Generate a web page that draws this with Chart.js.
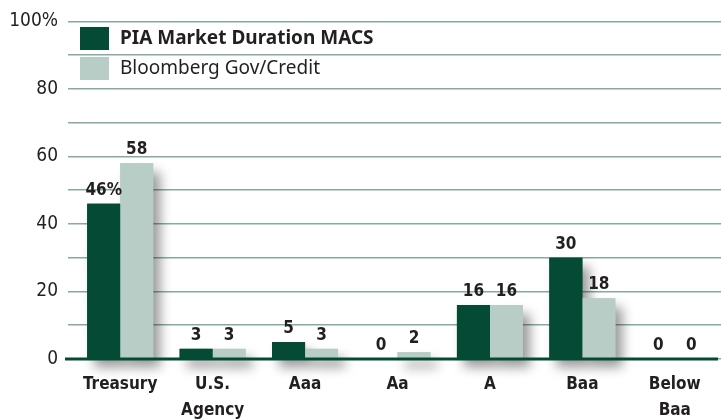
<!DOCTYPE html>
<html>
<head>
<meta charset="utf-8">
<script src="https://cdn.jsdelivr.net/npm/chart.js@4"></script>
<style>
  html, body { margin: 0; padding: 0; background: #fff; }
  #wrap { width: 722px; height: 420px; }
</style>
</head>
<body>
<div id="wrap"><canvas id="myChart" width="722" height="420"></canvas></div>
<script>
const labels = [
    'Treasury',
    ['U.S.', 'Agency'],
    'Aaa',
    'Aa',
    'A',
    'Baa',
    ['Below', 'Baa']
];

const piaValues = [46, 3, 5, 0, 16, 30, 0];
const bloombergValues = [58, 3, 3, 2, 16, 18, 0];

const yTicks = [0, 20, 40, 60, 80, 100];

const darkGreen = '#044a34';
const lightGreen = '#b8cdc6';
const gridColor = '#86ab9c';
const textColor = '#231f20';
const narrow = '"Liberation Sans Narrow", "DejaVu Sans Condensed", sans-serif';

const piaDataSet = {
    label: 'PIA Market Duration MACS',
    backgroundColor: darkGreen,
    data: piaValues,
    clip: false
};

const bloombergDataSet = {
    label: 'Bloomberg Gov/Credit',
    backgroundColor: lightGreen,
    data: bloombergValues,
    clip: false
};

// soft drop shadow painted under the bars, value labels on top
const barShadow = {
    id: 'barShadow',
    beforeDatasetsDraw(chart) {
        const ctx = chart.ctx;
        ctx.save();
        ctx.shadowColor = 'rgba(0,0,0,0.4)';
        ctx.shadowBlur = 12;
        ctx.shadowOffsetX = 7;
        ctx.shadowOffsetY = 9;
        chart.data.datasets.forEach((ds, d) => {
            ctx.fillStyle = ds.backgroundColor;
            chart.getDatasetMeta(d).data.forEach((bar) => {
                const w = bar.width;
                const h = bar.base - bar.y;
                if (h > 0) ctx.fillRect(bar.x - w / 2, bar.y, w, h);
            });
        });
        ctx.restore();
    },
    afterDatasetsDraw(chart) {
        const ctx = chart.ctx;
        ctx.save();
        ctx.font = 'bold 17px ' + narrow;
        ctx.fillStyle = textColor;
        ctx.textAlign = 'center';
        ctx.textBaseline = 'bottom';
        chart.data.datasets.forEach((ds, d) => {
            chart.getDatasetMeta(d).data.forEach((bar, i) => {
                let txt = String(ds.data[i]);
                if (d === 0 && i === 0) txt += '%';
                ctx.fillText(txt, bar.x, bar.y - 5);
            });
        });
        ctx.restore();
    }
};

// zero line across the bottom
const zeroLine = {
    id: 'zeroLine',
    afterDatasetsDraw(chart) {
        const ctx = chart.ctx;
        const y = chart.scales.y.getPixelForValue(0);
        ctx.save();
        ctx.strokeStyle = darkGreen;
        ctx.lineWidth = 3;
        ctx.beginPath();
        ctx.moveTo(chart.chartArea.left - 9, y);
        ctx.lineTo(chart.chartArea.right - 3, y);
        ctx.stroke();
        ctx.restore();
    }
};

// stacked legend inside the plot
const boxLegend = {
    id: 'boxLegend',
    afterDraw(chart) {
        const ctx = chart.ctx;
        const x = chart.chartArea.left + 6;
        const fonts = ['bold 19px "Noto Sans", sans-serif', '19px "Noto Sans", sans-serif'];
        ctx.save();
        ctx.textBaseline = 'middle';
        chart.data.datasets.forEach((ds, d) => {
            const top = 27 + d * 30;
            ctx.fillStyle = ds.backgroundColor;
            ctx.fillRect(x, top, 29, 23);
            ctx.fillStyle = textColor;
            ctx.font = fonts[d];
            ctx.fillText(ds.label, x + 40, top + 12);
        });
        ctx.restore();
    }
};

const config = {
    type: 'bar',
    data: {
        labels: labels,
        datasets: [piaDataSet, bloombergDataSet]
    },
    options: {
        responsive: false,
        animation: false,
        layout: { padding: { top: 19, right: 1, left: 0, bottom: 0 } },
        datasets: {
            bar: { categoryPercentage: 0.714, barPercentage: 1 }
        },
        plugins: {
            legend: { display: false },
            tooltip: { enabled: false }
        },
        scales: {
            x: {
                grid: { display: false, drawTicks: false },
                border: { display: false },
                ticks: {
                    color: textColor,
                    padding: 12,
                    maxRotation: 0,
                    font: { family: narrow, size: 17, weight: 'bold', lineHeight: 1.55 }
                },
                afterFit(scale) { scale.height = 61; }
            },
            y: {
                min: 0,
                max: 100,
                grid: {
                    color: gridColor,
                    lineWidth: 1.5,
                    tickLength: 6
                },
                border: { display: false },
                ticks: {
                    stepSize: 10,
                    color: textColor,
                    padding: 10,
                    font: { family: narrow, size: 19 },
                    callback: (v) => {
                        if (!yTicks.includes(v)) return '';
                        return v === 100 ? '100%' : v;
                    }
                },
                afterFit(scale) { scale.width = 74; }
            }
        }
    },
    plugins: [barShadow, zeroLine, boxLegend]
};

const myChart = new Chart(
    document.getElementById('myChart'),
    config
);
</script>
</body>
</html>
